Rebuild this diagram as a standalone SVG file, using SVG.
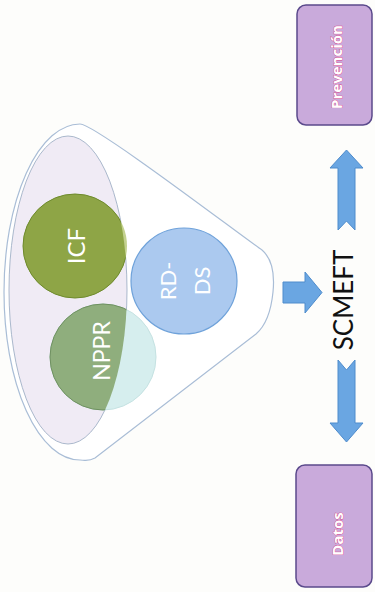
<svg xmlns="http://www.w3.org/2000/svg" width="375" height="592" viewBox="0 0 375 592">
<style>
.lbl{font-family:Lato,"Open Sans","Liberation Sans",sans-serif;fill:#ffffff;text-anchor:middle;dominant-baseline:central}
.box{fill:#c9aadb;stroke:#5b4a8c;stroke-width:1.5}
.boxt{font-family:"Open Sans","Liberation Sans",sans-serif;font-weight:700;font-size:15px;fill:#ffffff;stroke:#d9488a;stroke-width:0.8;paint-order:stroke;text-anchor:middle;dominant-baseline:central}
.arr{fill:#6aa6e2;stroke:#4f8ccc;stroke-width:1}
</style>
<defs>
<clipPath id="inner"><ellipse cx="68" cy="290" rx="59" ry="154"/></clipPath>
</defs>
<rect width="375" height="592" fill="#fdfdfb"/>
<g id="funnel">
<path d="M 80 124 C 95 124 240 235 262 250 Q 276 262 273 292 Q 270 322 256 334 L 95 458 C 88 462 84 460 80 460 A 76 168 0 0 1 80 124 Z" fill="#ffffff" stroke="#a9bdd6" stroke-width="1.2"/>
<ellipse cx="68" cy="290" rx="59" ry="154" fill="#f0ebf5" stroke="#aab8cc" stroke-width="1"/>
</g>
<g id="icf">
<circle cx="75" cy="246" r="52" fill="#c3d18f"/>
<circle cx="75" cy="246" r="52" fill="#8ea546" stroke="#6e8a2e" stroke-width="1" clip-path="url(#inner)"/>
<text class="lbl" font-size="24" transform="translate(75 246) rotate(-90)">ICF</text>
</g>
<g id="nppr">
<circle cx="103" cy="357" r="53" fill="#d6eeee" stroke="#c5e2e2" stroke-width="1"/>
<circle cx="103" cy="357" r="53" fill="#8fae7d" stroke="#6f9060" stroke-width="1" clip-path="url(#inner)"/>
<text class="lbl" font-size="23" transform="translate(101 351) rotate(-90)">NPPR</text>
</g>
<g id="rdds">
<circle cx="184" cy="281" r="53" fill="#abc9ef" stroke="#6fa2da" stroke-width="1.2"/>
<text class="lbl" font-size="22" transform="translate(184 281) rotate(-90)"><tspan x="0" y="-17">RD-</tspan><tspan x="0" y="17">DS</tspan></text>
</g>
<g id="scmeft">
<text font-family="Lato,'Open Sans','Liberation Sans',sans-serif" font-size="26" fill="#111111" text-anchor="middle" dominant-baseline="central" transform="translate(343 300) rotate(-90)">SCMEFT</text>
</g>
<g id="prevencion">
<rect class="box" x="297" y="5" width="75" height="120" rx="9"/>
<text class="boxt" transform="translate(336 67) rotate(-90)">Prevención</text>
</g>
<g id="datos">
<rect class="box" x="296" y="465" width="76" height="122" rx="9"/>
<text class="boxt" transform="translate(337 534) rotate(-90)">Datos</text>
</g>
<g id="connectors">
<path class="arr" d="M 283 282 L 305 282 L 305 272 L 322 292.5 L 305 313 L 305 303 L 283 303 Z"/>
<path class="arr" d="M 346.5 150 L 363 168 L 355 168 L 355 230 L 346.5 221 L 338 230 L 338 168 L 330 168 Z"/>
<path class="arr" d="M 338 360 L 346.5 370 L 355 360 L 355 423 L 363 423 L 346.5 442 L 330 423 L 338 423 Z"/>
</g>
</svg>
